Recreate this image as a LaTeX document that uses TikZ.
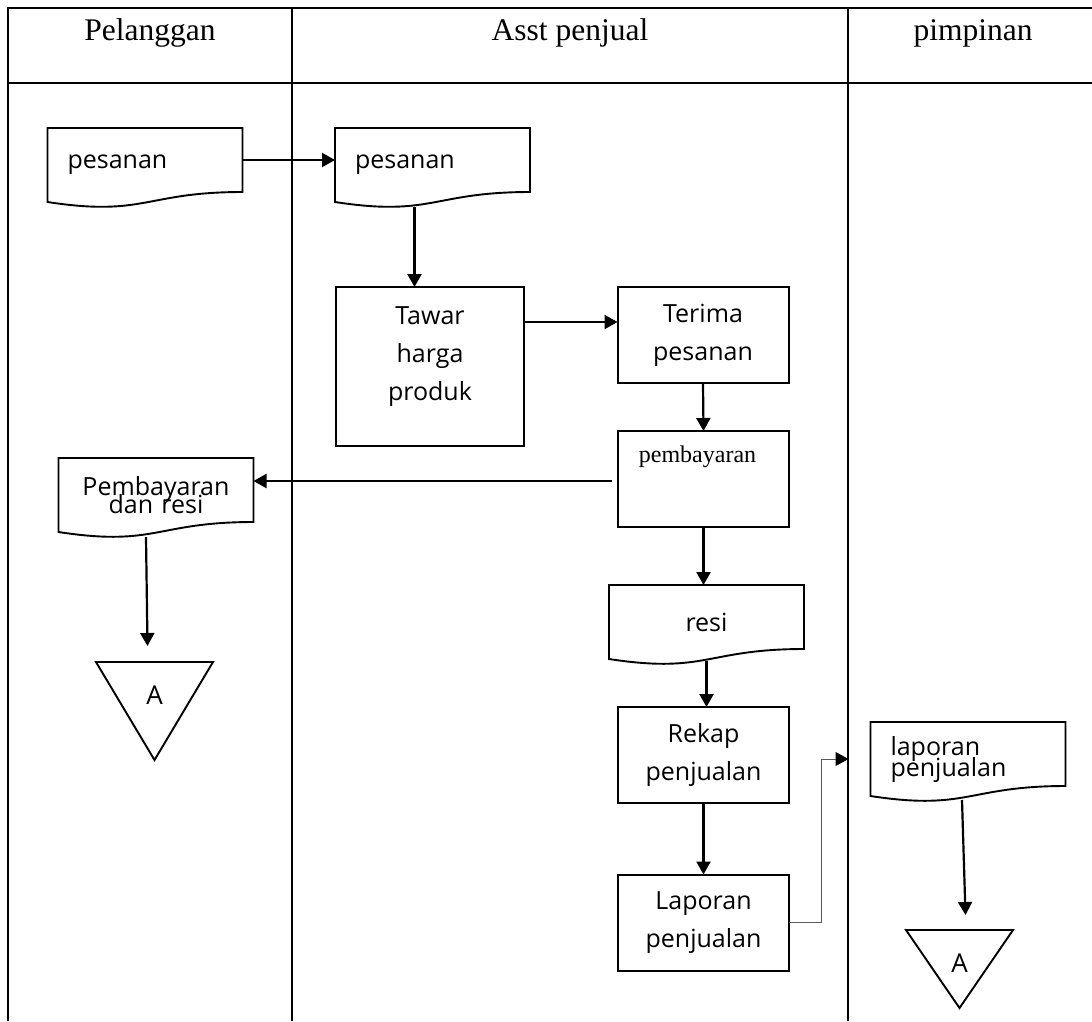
\documentclass[tikz,border=0pt]{standalone}
\usepackage{fontspec}
\setmainfont{Open Sans}
\newfontfamily\headfont{Liberation Serif}
\usetikzlibrary{arrows.meta,calc}

\tikzset{
  lane/.style={line width=2.6pt},
  head/.style={font=\headfont\fontsize{31.5}{36}\selectfont, anchor=base},
  boxtext/.style={align=center, font=\fontsize{25}{38}\selectfont},
  proc/.style={draw, line width=2pt, minimum width=171pt, minimum height=96pt,
    inner sep=0pt, outer sep=0pt, boxtext},
  docu/.style={minimum width=195pt, minimum height=74pt, inner sep=0pt, outer sep=0pt,
    text width=155pt, align=left, font=\fontsize{25}{30}\selectfont},
  tight/.style={font=\fontsize{25}{#1}\selectfont,
    execute at begin node={\setlength{\lineskiplimit}{-100pt}}},
  endtri/.style={minimum width=117pt, minimum height=98pt, inner sep=0pt, outer sep=0pt},
  flow/.style={line width=2.2pt, -{Triangle[length=13pt,width=14pt]}},
}

% outline of a document node (wavy bottom)
\newcommand{\docoutline}[1]{%
  \draw[line width=1.9pt] (#1.south west) -- (#1.north west) -- (#1.north east)
    -- ([yshift=10pt]#1.south east)
    .. controls ([yshift=10pt]#1.south) and ([yshift=-15pt]#1.south) .. (#1.south west) -- cycle;}
% outline of an off-page connector
\newcommand{\trioutline}[1]{%
  \draw[line width=1.9pt] (#1.north west) -- (#1.north east) -- (#1.south) -- cycle;}

\begin{document}
\begin{tikzpicture}
  [x=1pt, y=-1pt]
  \useasboundingbox (0,0) rectangle (1092,1021);

  % swimlanes
  \draw[lane] (8,1021) -- (8,8) -- (1092,8);
  \draw[lane] (8,83) -- (1092,83);
  \draw[lane] (292,83) -- (292,1021);
  \draw[lane] (848,83) -- (848,1021);
  \draw[line width=1.2pt] (292,8) -- (292,83);
  \draw[line width=1.2pt] (848,8) -- (848,83);

  \node[head] (hPel) at (150,40) {Pelanggan};
  \node[head] (hAsst) at (570,40) {Asst penjual};
  \node[head] (hPim) at (973,40) {pimpinan};

  % Pelanggan
  \node[docu] (pesan1) at (145,165) {pesanan};
  \node[docu, align=center, tight=18] (bukti) at (156,495) {Pembayaran\\dan resi};
  \node[endtri, label={[yshift=16pt, font=\fontsize{26}{30}\selectfont]center:A}] (endA) at (154.5,711) {};

  % Asst penjual
  \node[docu] (pesan2) at (432.5,165) {pesanan};
  \node[proc, minimum width=188pt, minimum height=159pt,
    label={[yshift=9.5pt, boxtext]center:{Tawar\\harga\\produk}}] (tawar) at (430,366.5) {};
  \node[proc] (terima) at (703,335) {Terima\\pesanan};
  \node[proc, label={[label distance=-37pt, inner sep=0pt, xshift=-6pt,
    font=\headfont\fontsize{24}{28}\selectfont]above:pembayaran}] (bayar) at (703.5,479) {};
  \node[docu, align=center] (resi) at (706.5,622) {resi};
  \node[proc] (rekap) at (703.5,755) {Rekap\\penjualan};
  \node[proc] (lapor) at (703.5,922.5) {Laporan\\penjualan};

  % pimpinan
  \node[docu, tight=21] (lapdoc) at (968,759) {laporan\\penjualan};
  \node[endtri, minimum width=107pt, minimum height=78pt,
    label={[yshift=6pt, font=\fontsize{26}{30}\selectfont]center:A}] (endB) at (959.5,969) {};

  \docoutline{pesan1}
  \docoutline{pesan2}
  \docoutline{bukti}
  \docoutline{resi}
  \docoutline{lapdoc}
  \trioutline{endA}
  \trioutline{endB}

  \draw[flow] ([yshift=5pt]pesan1.east) -- ([yshift=5pt]pesan1.east -| pesan2.west);
  \draw[flow] ([xshift=-18pt,yshift=-5pt]pesan2.south) -- ([xshift=-18pt]pesan2.south |- tawar.north);
  \draw[flow] ([yshift=13pt]terima.west -| tawar.east) -- ([yshift=13pt]terima.west);
  \draw[flow] (terima.south) -- (bayar.north);
  \draw[flow] ([xshift=-6pt,yshift=-2pt]bayar.west) -- ([yshift=-2pt]bayar.west -| bukti.east);
  \draw[flow] ([xshift=-10pt,yshift=-5pt]bukti.south) -- ([xshift=-7pt,yshift=16pt]endA.north);
  \draw[flow] (bayar.south) -- (bayar.south |- resi.north);
  \draw[flow] ([yshift=-2pt]resi.south) -- (resi.south |- rekap.north);
  \draw[flow] (rekap.south) -- (lapor.north);
  \draw[line width=1pt, draw=gray!70!black, -{Triangle[length=13pt,width=14pt,color=black]}]
    (lapor.east) -- ++(32,0) |- ([xshift=-22pt]lapdoc.west);
  \draw[flow] ([xshift=-6pt,yshift=-4pt]lapdoc.south) -- ([xshift=6pt,yshift=15pt]endB.north);
\end{tikzpicture}
\end{document}
